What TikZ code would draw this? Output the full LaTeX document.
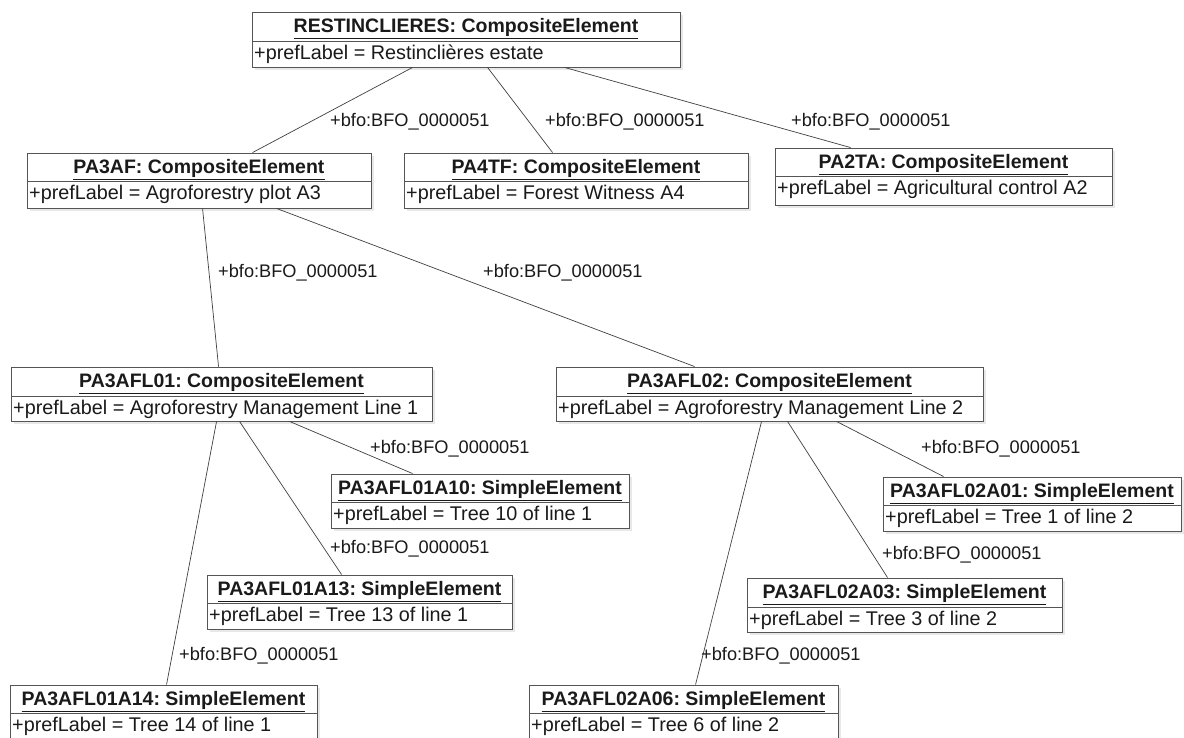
\documentclass[tikz,border=0pt]{standalone}
\usepackage{fontspec}
\setmainfont{Liberation Sans}
\frenchspacing
\usetikzlibrary{fit,calc}
\definecolor{framec}{HTML}{555555}
\definecolor{shadowc}{HTML}{E8E8E8}
\definecolor{linec}{HTML}{404040}
\definecolor{textc}{HTML}{1A1A1A}
\tikzset{
  umlframe/.style={draw=framec, line width=0.9pt, inner sep=0pt, rectangle},
  boxshadow/.style={fill=shadowc},
  divider/.style={draw=framec, line width=0.9pt},
  titletext/.style={inner sep=0pt, text=textc, font=\fontsize{19.5}{22}\selectfont\bfseries, anchor=base},
  attrtext/.style={inner sep=0pt, text=textc, font=\fontsize{19.8}{22}\selectfont, anchor=base west},
  assoc/.style={draw=linec, line width=0.7pt},
  rolelabel/.style={inner sep=0pt, text=textc, font=\fontsize{18.2}{21}\selectfont, anchor=west}
}
\newcommand\umlbox[8]{%
  \coordinate (#1-nw) at (#2,#3);
  \coordinate (#1-se) at (#4,#6);
  \fill[boxshadow] ($(#1-nw)+(3,3)$) rectangle ($(#1-se)+(3,3)$);
  \fill[white] (#1-nw) rectangle (#1-se);
  \node[umlframe, fit=(#1-nw)(#1-se)] (#1) {};
  \draw[divider] (#2,#5) -- (#4,#5);
  \node[titletext] (#1-title) at ({(#2+#4)/2},{#3+20.5}) {\underline{#7}};
  \node[attrtext] (#1-attr) at ({#2+2},{#5+18.5}) {#8};
}
\begin{document}
\begin{tikzpicture}[x=1pt,y=-1pt]
\useasboundingbox[fill=white] (0,0) rectangle (1184,738);

\umlbox{R}{252}{12}{680}{41}{67}{RESTINCLIERES: CompositeElement}{+prefLabel = Restinclières estate}
\umlbox{PA3AF}{27}{153}{371}{181}{208}{PA3AF: CompositeElement}{+prefLabel = Agroforestry plot A3}
\umlbox{PA4TF}{404}{153}{748}{181}{208}{PA4TF: CompositeElement}{+prefLabel = Forest Witness A4}
\umlbox{PA2TA}{775}{148}{1112}{176}{205}{PA2TA: CompositeElement}{+prefLabel = Agricultural control A2}
\umlbox{L01}{11}{367}{432}{396}{421}{PA3AFL01: CompositeElement}{+prefLabel = Agroforestry Management Line 1}
\umlbox{L02}{556}{367}{983}{396}{421}{PA3AFL02: CompositeElement}{+prefLabel = Agroforestry Management Line 2}
\umlbox{A10}{331}{474}{629}{502}{528}{PA3AFL01A10: SimpleElement}{+prefLabel = Tree 10 of line 1}
\umlbox{A01}{883}{477}{1181}{505}{531}{PA3AFL02A01: SimpleElement}{+prefLabel = Tree 1 of line 2}
\umlbox{A13}{207}{575}{512}{603}{629}{PA3AFL01A13: SimpleElement}{+prefLabel = Tree 13 of line 1}
\umlbox{A03}{747}{578}{1062}{607}{632}{PA3AFL02A03: SimpleElement}{+prefLabel = Tree 3 of line 2}
\umlbox{A14}{10}{685}{317}{713}{745}{PA3AFL01A14: SimpleElement}{+prefLabel = Tree 14 of line 1}
\umlbox{A06}{529}{685}{838}{713}{745}{PA3AFL02A06: SimpleElement}{+prefLabel = Tree 6 of line 2}

% connectors
\draw[assoc] ([xshift=161pt]R.south west) -- ([xshift=226pt]PA3AF.north west);
\draw[assoc] ([xshift=236pt]R.south west) -- ([xshift=149pt]PA4TF.north west);
\draw[assoc] ([xshift=313pt]R.south west) -- ([xshift=76pt]PA2TA.north west);
\draw[assoc] ([xshift=176pt]PA3AF.south west) -- ([xshift=208pt]L01.north west);
\draw[assoc] ([xshift=250pt]PA3AF.south west) -- ([xshift=139pt]L02.north west);
\draw[assoc] ([xshift=279pt]L01.south west) -- ([xshift=82pt]A10.north west);
\draw[assoc] ([xshift=229pt]L01.south west) -- ([xshift=135pt]A13.north west);
\draw[assoc] ([xshift=206pt]L01.south west) -- ([xshift=157pt]A14.north west);
\draw[assoc] ([xshift=281pt]L02.south west) -- ([xshift=61pt]A01.north west);
\draw[assoc] ([xshift=232pt]L02.south west) -- ([xshift=141pt]A03.north west);
\draw[assoc] ([xshift=206pt]L02.south west) -- ([xshift=167pt]A06.north west);

% role labels
\node[rolelabel] (lb1) at (330,122) {+bfo:BFO\_0000051};
\node[rolelabel] (lb2) at (545,122) {+bfo:BFO\_0000051};
\node[rolelabel] (lb3) at (791,122) {+bfo:BFO\_0000051};
\node[rolelabel] (lb4) at (218,273) {+bfo:BFO\_0000051};
\node[rolelabel] (lb5) at (483,273) {+bfo:BFO\_0000051};
\node[rolelabel] (lb6) at (370,449) {+bfo:BFO\_0000051};
\node[rolelabel] (lb7) at (330,549) {+bfo:BFO\_0000051};
\node[rolelabel] (lb8) at (179,656) {+bfo:BFO\_0000051};
\node[rolelabel] (lb9) at (921,449) {+bfo:BFO\_0000051};
\node[rolelabel] (lb10) at (882,555) {+bfo:BFO\_0000051};
\node[rolelabel] (lb11) at (701,656) {+bfo:BFO\_0000051};
\end{tikzpicture}
\end{document}
